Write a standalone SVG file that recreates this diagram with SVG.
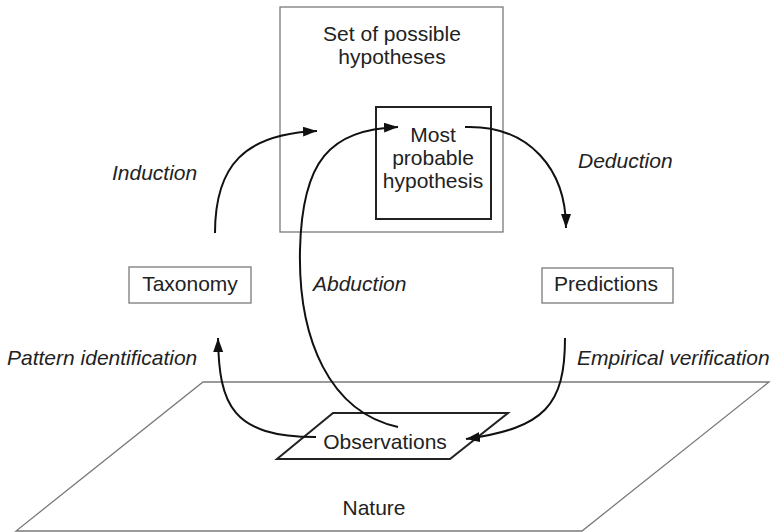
<svg xmlns="http://www.w3.org/2000/svg" width="775" height="532" viewBox="0 0 775 532">
<defs>
<marker id="ah" markerUnits="userSpaceOnUse" markerWidth="16" markerHeight="12" refX="14" refY="5" orient="auto">
<path d="M0,0 L14,5 L0,10 Z" fill="#111"/>
</marker>
<style>
text{font-family:"Liberation Sans",Arial,sans-serif;font-size:21px;fill:#222}
.it{font-style:italic}
.mid{text-anchor:middle}
.thin{fill:none;stroke:#7a7a7a;stroke-width:1.3}
.thick{fill:none;stroke:#222;stroke-width:2}
.conn{fill:none;stroke:#111;stroke-width:2}
</style>
</defs>
<rect width="775" height="532" fill="#fff"/>
<g id="nature">
<polygon class="thin" points="203,382 769,382 582,531 16,531"/>
<text class="mid" x="374" y="515">Nature</text>
</g>
<g id="hypotheses-set">
<rect class="thin" x="280" y="7" width="223" height="225"/>
<text class="mid" x="392" y="41">Set of possible</text>
<text class="mid" x="392" y="64">hypotheses</text>
</g>
<g id="most-probable">
<rect class="thick" x="376" y="107" width="115" height="112"/>
<text class="mid" x="433" y="142">Most</text>
<text class="mid" x="433" y="165">probable</text>
<text class="mid" x="433" y="188">hypothesis</text>
</g>
<g id="taxonomy">
<rect class="thin" x="129" y="267" width="122" height="36"/>
<text class="mid" x="190" y="291">Taxonomy</text>
</g>
<g id="predictions">
<rect class="thin" x="542" y="268" width="131" height="35"/>
<text class="mid" x="606" y="291">Predictions</text>
</g>
<g id="observations">
<polygon class="thick" points="333,413 508,413 450,459 277,459"/>
<text class="mid" x="385" y="449">Observations</text>
</g>
<g id="connectors">
<path class="conn" marker-end="url(#ah)" d="M215,233 C215,165 245,134 317,131"/>
<path class="conn" marker-end="url(#ah)" d="M398,427 C330,412 298,340 300,250 C302,160 330,130 398,127"/>
<path class="conn" marker-end="url(#ah)" d="M465,127 C530,125 566,170 566,228"/>
<path class="conn" marker-end="url(#ah)" d="M565,338 C565,405 545,428 466,439"/>
<path class="conn" marker-end="url(#ah)" d="M316,437 C232,437 219,405 218,338"/>
</g>
<g id="labels">
<text class="it" x="112" y="180">Induction</text>
<text class="it" x="578" y="168">Deduction</text>
<text class="it" x="313" y="291">Abduction</text>
<text class="it" x="7" y="365">Pattern identification</text>
<text class="it" x="577" y="365">Empirical verification</text>
</g>
</svg>
